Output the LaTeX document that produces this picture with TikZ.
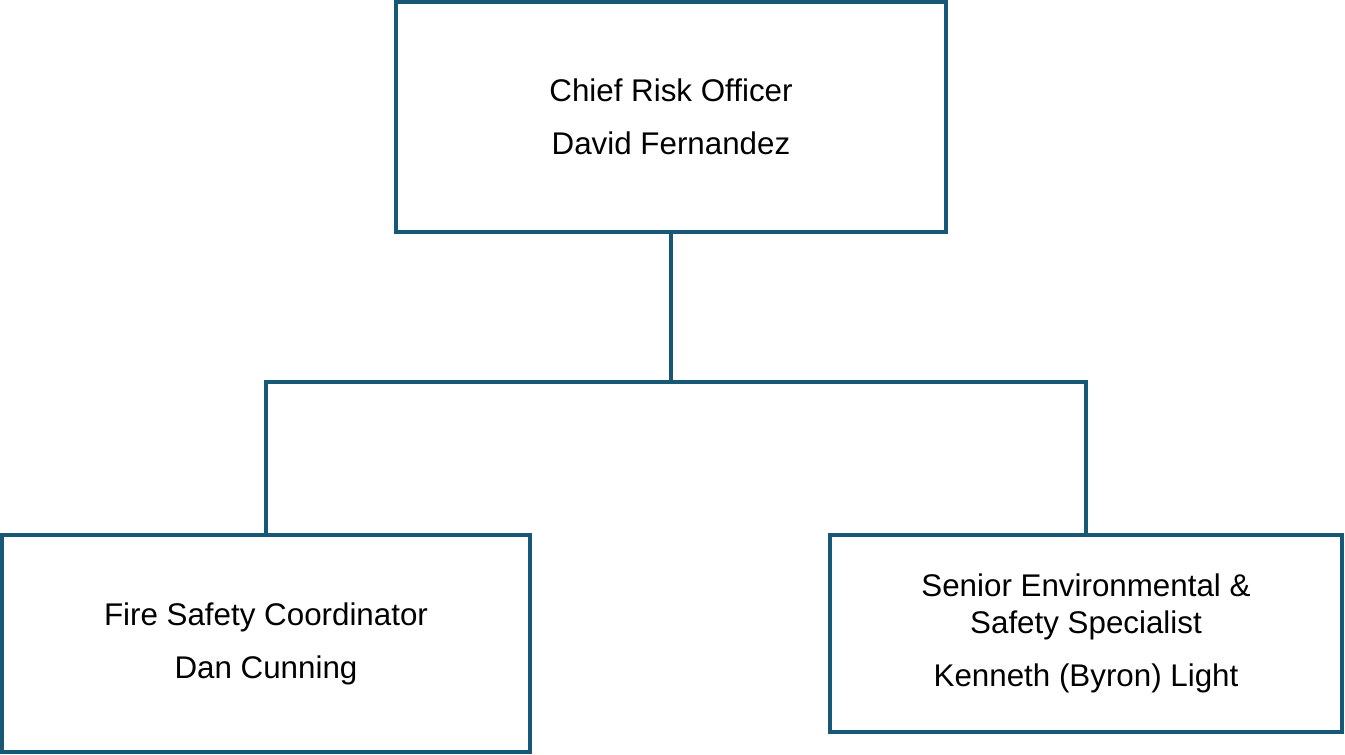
\documentclass[tikz,border=0pt]{standalone}
\usepackage{fontspec}
\setmainfont{Liberation Sans}
\usepackage{tikz}
\definecolor{boxline}{RGB}{23,88,118}

\begin{document}
\begin{tikzpicture}[x=0.75pt,y=-0.75pt,
    post/.style={draw=boxline, line width=3.6pt, align=center, inner sep=0pt,
                 font=\fontsize{23.5}{27.75}\selectfont},
    link/.style={draw=boxline, line width=3.6pt}]
    \useasboundingbox (0,0) rectangle (1345,755);
    % the three posts
    \node[post, minimum width=412.5pt, minimum height=172.5pt] (cro) at (671,117)
        {Chief Risk Officer\\[12pt]David Fernandez};
    \node[post, minimum width=396pt, minimum height=162.75pt] (fire) at (266,643.5)
        {Fire Safety Coordinator\\[12pt]Dan Cunning};
    \node[post, minimum width=384pt, minimum height=147.75pt] (env) at (1086,633.5)
        {Senior Environmental \&\\Safety Specialist\\[12pt]Kenneth (Byron) Light};
    % reporting lines
    \coordinate (split) at (671,382);
    \draw[link] (cro.south) -- (split) -| (fire.north);
    \draw[link] (split) -| (env.north);
\end{tikzpicture}
\end{document}
